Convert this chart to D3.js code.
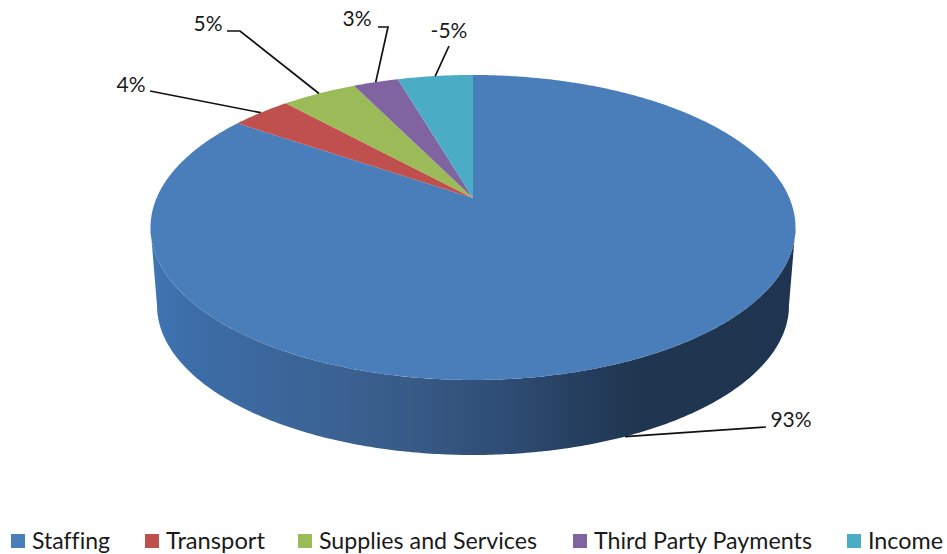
<!DOCTYPE html>
<html>
<head>
<meta charset="utf-8">
<script src="https://d3js.org/d3.v7.min.js"></script>
<style>
  html, body { margin: 0; padding: 0; background: #fff; }
  svg { display: block; }
  text { font-family: Lato, "Open Sans", sans-serif; fill: #1a1a1a; font-variant-ligatures: none; }
</style>
</head>
<body>
<svg id="chart" width="947" height="554"></svg>
<script>
// Budget shares, as labelled
const categories = ["Staffing", "Transport", "Supplies and Services", "Third Party Payments", "Income"];
const values = [93, 4, 5, 3, -5];
const valueLabels = ["93%", "4%", "5%", "3%", "-5%"];
const colours = ["#4a7ebb", "#c0504d", "#9bbb59", "#8064a2", "#4bacc6"];

const svg = d3.select("#chart");
const TAU = Math.PI * 2;

// Perspective disc: the far edge is foreshortened by `tilt`
const tilt = 0.1934;
const topCap = { cx: 473, cy: 198, rx: 316.4, ry: 146.8 };
const baseCap = { cx: 473, cy: 276.6, rx: 310, ry: 143.9 };

function project(cap, angle) {
  const u = Math.sin(angle), v = -Math.cos(angle);
  const s = 1 / (1 - tilt * v);
  return [cap.cx + cap.rx * u * s, cap.cy + cap.ry * v * s];
}
const arcPoints = (cap, a0, a1) => {
  const n = Math.max(2, Math.ceil(Math.abs(a1 - a0) / 0.01));
  return d3.range(n + 1).map(i => project(cap, a0 + (a1 - a0) * i / n));
};
const line = d3.line();

// Wedges run clockwise from twelve o'clock, sized by magnitude
const pie = d3.pie().sort(null).value(d => Math.abs(d));
const wedges = pie(values);

// Side wall, shaded left to right
const defs = svg.append("defs");
const wallStops = [
  [0, "#4074b4"], [0.08, "#3c6ca6"], [0.25, "#3b6496"], [0.4, "#385b88"],
  [0.55, "#2f4d74"], [0.68, "#243d5c"], [0.76, "#203650"], [1, "#1e3450"]
];
defs.append("linearGradient").attr("id", "wallShade")
  .attr("gradientUnits", "userSpaceOnUse")
  .attr("x1", 150).attr("x2", 795).attr("y1", 0).attr("y2", 0)
  .selectAll("stop").data(wallStops).join("stop")
  .attr("offset", d => d[0]).attr("stop-color", d => d[1]);

const extreme = Math.acos(-tilt); // angle of the widest point of the disc
const frontTop = arcPoints(topCap, extreme, TAU - extreme);
const frontBase = arcPoints(baseCap, TAU - extreme, extreme);
svg.append("path")
  .attr("d", line(frontTop.concat(frontBase)) + "Z")
  .attr("fill", "url(#wallShade)");

// Top face
svg.append("g").selectAll("path").data(wedges).join("path")
  .attr("d", d => line([[topCap.cx, topCap.cy], ...arcPoints(topCap, d.startAngle, d.endAngle)]) + "Z")
  .attr("fill", (d, i) => colours[i]);

// Label placement: text anchor point, elbow, and where the leader meets the pie
const labelPos = [
  { x: 791, y: 427, start: [766, 427], elbow: null, anchorAngle: 2.726, cap: baseCap },
  { x: 131, y: 92, start: [150, 91], elbow: null },
  { x: 208, y: 31, start: [227, 31], elbow: [240, 31] },
  { x: 357, y: 26, start: [378, 27], elbow: [388, 27] },
  { x: 449, y: 38, start: [449, 46], elbow: null }
];

const leaders = svg.append("g");
wedges.forEach((d, i) => {
  const p = labelPos[i];
  const end = p.cap ? project(p.cap, p.anchorAngle)
                    : project(topCap, (d.startAngle + d.endAngle) / 2);
  const pts = [p.start].concat(p.elbow ? [p.elbow] : [], [end]);
  leaders.append("path").attr("d", line(pts))
    .attr("fill", "none").attr("stroke", "#111").attr("stroke-width", 1.7);
});

svg.append("g").selectAll("text").data(valueLabels).join("text")
  .attr("x", (d, i) => labelPos[i].x)
  .attr("y", (d, i) => labelPos[i].y)
  .attr("text-anchor", "middle")
  .attr("font-size", 21)
  .text(d => d);

// Legend row
const legendX = d3.scaleOrdinal(categories, [11, 145, 298, 573, 847]);
const legendWidths = d3.scaleOrdinal(categories, [78, 99, 218, 218, 75]);
const legend = svg.append("g").selectAll("g").data(categories).join("g");
legend.append("rect")
  .attr("x", d => legendX(d)).attr("y", 534)
  .attr("width", 14).attr("height", 14)
  .attr("fill", (d, i) => colours[i]);
legend.append("text")
  .attr("x", d => legendX(d) + 21).attr("y", 549)
  .attr("font-size", 24)
  .attr("textLength", d => legendWidths(d))
  .attr("lengthAdjust", "spacingAndGlyphs")
  .text(d => d);
</script>
</body>
</html>
